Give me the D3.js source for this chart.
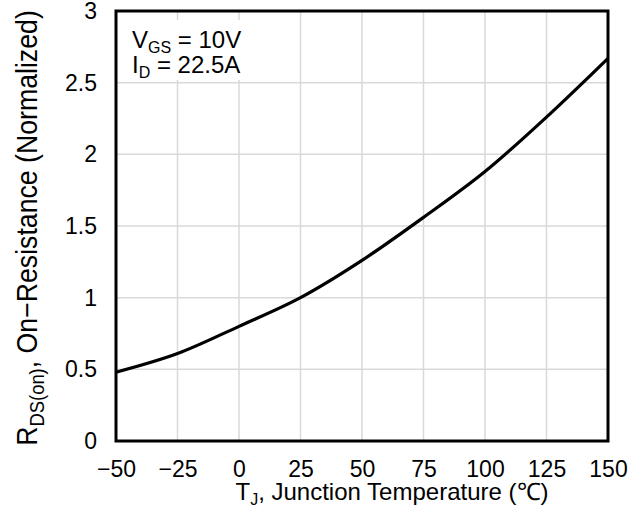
<!DOCTYPE html>
<html><head><meta charset="utf-8">
<script src="https://cdn.jsdelivr.net/npm/d3@7"></script>
<style>body{margin:0;background:#fff}svg{display:block}text{font-family:"Liberation Sans",Arial,sans-serif;fill:#000}</style>
</head><body>
<script>
const temps = [-50, -25, 0, 25, 50, 75, 100, 125, 150];
const rdsOn = [0.48, 0.61, 0.80, 1.00, 1.26, 1.56, 1.88, 2.26, 2.67];
const xTicks = [-50, -25, 0, 25, 50, 75, 100, 125, 150];
const yTicks = [0, 0.5, 1, 1.5, 2, 2.5, 3];

const W = 643, H = 515;
const m = {l:116, r:35, t:11, b:74};
const svg = d3.select("body").append("svg").attr("width", W).attr("height", H);
const x = d3.scaleLinear().domain([-50,150]).range([m.l, W - m.r]);
const y = d3.scaleLinear().domain([0,3]).range([H - m.b, m.t]);

// grid
svg.append("g").selectAll("line").data(xTicks.slice(1,-1)).join("line")
  .attr("x1", d=>x(d)).attr("x2", d=>x(d)).attr("y1", y(0)).attr("y2", y(3))
  .attr("stroke", "#d9d9d9").attr("stroke-width", 1.5);
svg.append("g").selectAll("line").data(yTicks.slice(1,-1)).join("line")
  .attr("y1", d=>y(d)).attr("y2", d=>y(d)).attr("x1", x(-50)).attr("x2", x(150))
  .attr("stroke", "#d9d9d9").attr("stroke-width", 1.5);

// legend box
svg.append("rect").attr("x", x(-50)+2).attr("y", 20).attr("width", 138).attr("height", 60).attr("fill", "#fff");
const leg = svg.append("g").style("font-size", "24px");
const t1 = leg.append("text").attr("x", 132).attr("y", 48);
t1.append("tspan").text("V");
t1.append("tspan").attr("dy", 5).style("font-size", "16px").text("GS");
t1.append("tspan").attr("dy", -5).text(" = 10V");
const t2 = leg.append("text").attr("x", 132).attr("y", 73);
t2.append("tspan").text("I");
t2.append("tspan").attr("dy", 5).style("font-size", "16px").text("D");
t2.append("tspan").attr("dy", -5).text(" = 22.5A");

// curve
const line = d3.line().x((d,i)=>x(temps[i])).y(d=>y(d)).curve(d3.curveMonotoneX);
svg.append("path").datum(rdsOn).attr("d", line).attr("fill","none").attr("stroke","#000").attr("stroke-width",3.2);

// frame
svg.append("rect").attr("x", x(-50)).attr("y", y(3)).attr("width", x(150)-x(-50)).attr("height", y(0)-y(3))
  .attr("fill","none").attr("stroke","#000").attr("stroke-width",3);

// axes
const fmt = d => (d < 0 ? "\u2212" + Math.abs(d) : String(d));
const xa = svg.append("g").attr("transform", `translate(0,${y(0)})`)
  .call(d3.axisBottom(x).tickValues(xTicks).tickFormat(fmt).tickSize(0).tickPadding(20));
xa.select(".domain").remove();
xa.selectAll("text").style("font-size","23px").style("font-family","Liberation Sans, Arial, sans-serif");
const ya = svg.append("g").attr("transform", `translate(${x(-50)},0)`)
  .call(d3.axisLeft(y).tickValues(yTicks).tickFormat(d3.format("")).tickSize(0).tickPadding(19));
ya.select(".domain").remove();
ya.selectAll("text").style("font-size","23px").style("font-family","Liberation Sans, Arial, sans-serif");

// axis labels
const xl = svg.append("text").attr("x", 392).attr("y", 500).attr("text-anchor","middle").style("font-size","24px");
xl.append("tspan").text("T");
xl.append("tspan").attr("dy", 5).style("font-size","16px").text("J");
xl.append("tspan").attr("dy", -5).text(", Junction Temperature (\u2103)");

const yl = svg.append("text").attr("transform","translate(37,228) rotate(-90) scale(0.92,1)").attr("text-anchor","middle").style("font-size","29px");
yl.append("tspan").text("R");
yl.append("tspan").attr("dy", 7).style("font-size","20px").text("DS(on)");
yl.append("tspan").attr("dy", -7).text(", On\u2212Resistance (Normalized)");
</script>
</body></html>
